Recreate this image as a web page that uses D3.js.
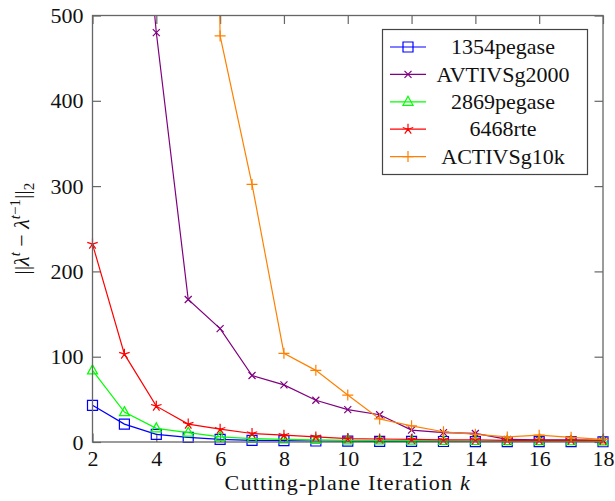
<!DOCTYPE html>
<html>
<head>
<meta charset="utf-8">
<script src="https://cdn.jsdelivr.net/npm/d3@7"></script>
<style>
  body { margin: 0; background: #fff; }
  svg text { fill: #111; }
  .tick line { stroke: #666; stroke-width: 1.2; }
  .tick text { font-size: 22px; }
</style>
</head>
<body>
<svg id="chart" width="615" height="501"></svg>
<script>
// iteration numbers on the x axis
const iters = [2, 3, 4, 5, 6, 7, 8, 9, 10, 11, 12, 13, 14, 15, 16, 17, 18];

// one value per iteration, null where the case has no point
const pegase1354 = [43, 21, 9, 5.5, 3, 2, 1.5, 1.2, 1, 0.8, 0.7, 0.6, 0.5, 0.5, 0.4, 0.4, 0.3];
const avtivs2000 = [null, 880, 480, 167, 133, 78, 67, 49, 38, 32, 14, 11, 10, 3, 2.5, 2.5, 2];
const pegase2869 = [84, 35, 16, 11, 6, 4, 3, 2.5, 2, 1.8, 1.5, 1.3, 1.2, 1, 1, 0.9, 0.8];
const rte6468    = [232, 103, 42, 21, 15, 10, 8, 6, 4, 3.5, 3, 2.5, 2.5, 2, 2, 2, 1.8];
const activs10k  = [null, null, null, 2500, 476, 302, 104, 84, 55, 27, 19, 12, 9, 6, 8, 5.5, 3];

const xTicks = [2, 4, 6, 8, 10, 12, 14, 16, 18];
const yTicks = [0, 100, 200, 300, 400, 500];

const series = [
    {name: "1354pegase",  values: pegase1354, color: "#0000ff", mark: "square"},
    {name: "AVTIVSg2000", values: avtivs2000, color: "#800080", mark: "x"},
    {name: "2869pegase",  values: pegase2869, color: "#00ff00", mark: "triangle"},
    {name: "6468rte",     values: rte6468,    color: "#ff0000", mark: "star"},
    {name: "ACTIVSg10k",  values: activs10k,  color: "#ff8000", mark: "plus"}
];

const plotLeft = 92.5, plotRight = 603, plotTop = 15.5, plotBottom = 442;
const serif = "'Liberation Serif', 'DejaVu Serif', 'Noto Serif', Tinos, 'Nimbus Roman', 'FreeSerif', 'Times New Roman', Times, 'Noto Serif CJK SC', serif";

const x = d3.scaleLinear().domain([2, 18]).range([plotLeft, plotRight]);
const y = d3.scaleLinear().domain([0, 500]).range([plotBottom, plotTop]);

const svg = d3.select("#chart");

// marker shapes, drawn around (0,0)
function markPath(kind) {
    const p = d3.path();
    if (kind === "square") {
        p.rect(-5, -5, 10, 10);
    } else if (kind === "triangle") {
        p.moveTo(0, -5.5); p.lineTo(5, 3.5); p.lineTo(-5, 3.5); p.closePath();
    } else if (kind === "x") {
        p.moveTo(-3.5, -3.5); p.lineTo(3.5, 3.5);
        p.moveTo(-3.5, 3.5); p.lineTo(3.5, -3.5);
    } else if (kind === "plus") {
        p.moveTo(-5.5, 0); p.lineTo(5.5, 0);
        p.moveTo(0, -5.5); p.lineTo(0, 5.5);
    } else if (kind === "star") {
        for (let k = 0; k < 5; k++) {
            let a = -Math.PI / 2 + k * 2 * Math.PI / 5;
            p.moveTo(0, 0); p.lineTo(5.5 * Math.cos(a), 5.5 * Math.sin(a));
        }
    }
    return p.toString();
}

svg.append("clipPath").attr("id", "plot-clip")
    .append("rect")
    .attr("x", plotLeft).attr("y", plotTop)
    .attr("width", plotRight - plotLeft).attr("height", plotBottom - plotTop);

//axes with inward ticks:
svg.append("g")
    .attr("transform", `translate(0,${plotBottom})`)
    .call(d3.axisBottom(x).tickValues(xTicks).tickSizeInner(-8.5).tickSizeOuter(0).tickPadding(8))
    .call(g => g.select(".domain").remove());
svg.append("g")
    .attr("transform", `translate(0,${plotTop})`)
    .call(d3.axisTop(x).tickValues(xTicks).tickSizeInner(-8.5).tickSizeOuter(0).tickFormat(""))
    .call(g => g.select(".domain").remove());
svg.append("g")
    .attr("transform", `translate(${plotLeft},0)`)
    .call(d3.axisLeft(y).tickValues(yTicks).tickSizeInner(-8.5).tickSizeOuter(0).tickPadding(9))
    .call(g => g.select(".domain").remove());
svg.append("g")
    .attr("transform", `translate(${plotRight},0)`)
    .call(d3.axisRight(y).tickValues(yTicks).tickSizeInner(-8.5).tickSizeOuter(0).tickFormat(""))
    .call(g => g.select(".domain").remove());

svg.selectAll(".tick text").attr("fill", "#111").style("font-family", serif);

// lines and marks
const line = d3.line()
    .defined(d => d.v !== null)
    .x(d => x(d.it))
    .y(d => y(d.v));

series.forEach(s => {
    let pts = iters.map((it, i) => ({it: it, v: s.values[i]}));
    svg.append("path")
        .attr("clip-path", "url(#plot-clip)")
        .attr("d", line(pts))
        .attr("fill", "none")
        .attr("stroke", s.color)
        .attr("stroke-width", 1.2);
    svg.append("g").selectAll("path")
        .data(pts.filter(d => d.v !== null && d.v <= 500))
        .join("path")
        .attr("transform", d => `translate(${x(d.it)},${y(d.v)})`)
        .attr("d", markPath(s.mark))
        .attr("fill", "none")
        .attr("stroke", s.color)
        .attr("stroke-width", 1.2);
});

// frame
svg.append("rect")
    .attr("x", plotLeft).attr("y", plotTop)
    .attr("width", plotRight - plotLeft).attr("height", plotBottom - plotTop)
    .attr("fill", "none")
    .attr("stroke", "#666")
    .attr("stroke-width", 1.3);

// legend
const legend = svg.append("g");
legend.append("rect")
    .attr("x", 382.5).attr("y", 29.5)
    .attr("width", 205).attr("height", 145)
    .attr("fill", "#fff")
    .attr("stroke", "#444")
    .attr("stroke-width", 1.2);
series.forEach((s, i) => {
    let row = legend.append("g").attr("transform", `translate(0,${47 + i * 27.4})`);
    row.append("line")
        .attr("x1", 390).attr("x2", 426)
        .attr("stroke", s.color).attr("stroke-width", 1.2);
    row.append("path")
        .attr("transform", "translate(408,0)")
        .attr("d", markPath(s.mark))
        .attr("fill", "none")
        .attr("stroke", s.color).attr("stroke-width", 1.2);
    row.append("text")
        .attr("x", 503).attr("y", 0).attr("dy", "0.33em")
        .attr("text-anchor", "middle")
        .style("font-family", serif)
        .attr("font-size", 22)
        .text(s.name);
});

// axis labels
svg.append("text")
    .attr("x", (plotLeft + plotRight) / 2).attr("y", 490)
    .attr("text-anchor", "middle")
    .style("font-family", serif)
    .attr("font-size", 22)
    .attr("letter-spacing", 1.2)
    .html('Cutting-plane Iteration <tspan font-style="italic">k</tspan>');

svg.append("text")
    .attr("transform", `translate(29,${(plotTop + plotBottom) / 2}) rotate(-90)`)
    .attr("text-anchor", "middle")
    .style("font-family", serif)
    .attr("font-size", 22)
    .html('<tspan>||</tspan><tspan font-style="italic">λ</tspan>' +
          '<tspan dy="-9" font-size="15" font-style="italic">t</tspan>' +
          '<tspan dy="9"> − </tspan><tspan font-style="italic">λ</tspan>' +
          '<tspan dy="-9" font-size="15" font-style="italic">t</tspan>' +
          '<tspan font-size="15">−1</tspan>' +
          '<tspan dy="9">||</tspan><tspan dy="5" font-size="15">2</tspan>');
</script>
</body>
</html>
